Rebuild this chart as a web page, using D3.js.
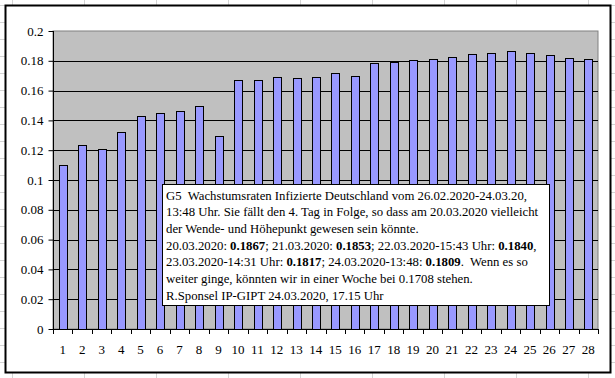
<!DOCTYPE html>
<html lang="de">
  <head>
    <meta charset="utf-8">
    <script src="https://d3js.org/d3.v7.min.js"></script>
    <style>
      body { margin: 0; background: #fff; }
      text { font-family: "Liberation Serif", "Times New Roman", serif; }
    </style>
  </head>
  <body>
    <script>
      // days 1..28 (26.02.2020 - 24.03.2020)
      var days = d3.range(1, 29);
      var rates = [0.110, 0.1233, 0.1206, 0.132, 0.1427, 0.1447, 0.1463, 0.150,
        0.1293, 0.1669, 0.1669, 0.1689, 0.1682, 0.1689, 0.1716, 0.1696,
        0.1783, 0.179, 0.1803, 0.181, 0.1823, 0.1843, 0.185, 0.1867,
        0.1853, 0.1840, 0.1817, 0.1809];
      var yTicks = [0, 0.02, 0.04, 0.06, 0.08, 0.1, 0.12, 0.14, 0.16, 0.18, 0.2];
      // text box lines, parts: [text, bold]
      var noteLines = [
        [["G5  Wachstumsraten Infizierte Deutschland vom 26.02.2020-24.03.20,", false]],
        [["13:48 Uhr. Sie fällt den 4. Tag in Folge, so dass am 20.03.2020 vielleicht", false]],
        [["der Wende- und Höhepunkt gewesen sein könnte.", false]],
        [["20.03.2020: ", false], ["0.1867", true], ["; 21.03.2020: ", false], ["0.1853", true],
         ["; 22.03.2020-15:43 Uhr: ", false], ["0.1840", true], [",", false]],
        [["23.03.2020-14:31 Uhr: ", false], ["0.1817", true], ["; 24.03.2020-13:48: ", false],
         ["0.1809", true], [".  Wenn es so", false]],
        [["weiter ginge, könnten wir in einer Woche bei 0.1708 stehen.", false]],
        [["R.Sponsel IP-GIPT 24.03.2020, 17.15 Uhr", false]]
      ];

      var width = 615, height = 378;
      var svg = d3.select("body").append("svg")
        .attr("width", width).attr("height", height);

      // spreadsheet grid behind the chart
      var grid = svg.append("g").attr("stroke", "#d4d4d4").attr("stroke-width", 1);
      d3.range(12, width, 72).forEach(function (gx) {
        grid.append("line").attr("x1", gx + 0.5).attr("x2", gx + 0.5).attr("y1", 0).attr("y2", height);
      });
      d3.range(4.7, height, 17).forEach(function (gy) {
        grid.append("line").attr("x1", 0).attr("x2", width).attr("y1", Math.round(gy) + 0.5).attr("y2", Math.round(gy) + 0.5);
      });

      // chart area
      svg.append("rect")
        .attr("x", 5.5).attr("y", 5.5).attr("width", 605).attr("height", 367)
        .attr("fill", "#fff").attr("stroke", "#000").attr("stroke-width", 2);

      var plotL = 53, plotR = 598, plotT = 31, plotB = 329;

      var x = d3.scaleBand().domain(days).range([plotL, plotR])
        .paddingInner(0.61).paddingOuter(0.305);
      var y = d3.scaleLinear().domain([0, 0.2]).range([plotB, plotT]);

      // plot area
      svg.append("rect")
        .attr("x", plotL).attr("y", plotT).attr("width", plotR - plotL).attr("height", plotB - plotT)
        .attr("fill", "#c0c0c0").attr("stroke", "#808080");

      // gridlines
      svg.append("g").selectAll("line").data(yTicks.slice(1, -1)).join("line")
        .attr("x1", plotL).attr("x2", plotR)
        .attr("y1", function (d) { return Math.round(y(d)) + 0.5; })
        .attr("y2", function (d) { return Math.round(y(d)) + 0.5; })
        .attr("stroke", "#000");

      // bars
      svg.append("g").selectAll("rect").data(rates).join("rect")
        .attr("x", function (d, i) { return Math.round(x(days[i])) + 0.5; })
        .attr("y", function (d) { return Math.round(y(d)) + 0.5; })
        .attr("width", Math.round(x.bandwidth()))
        .attr("height", function (d) { return Math.round(y(0)) - Math.round(y(d)); })
        .attr("fill", "#9999ff").attr("stroke", "#000");

      // y axis
      var yAxis = svg.append("g").attr("transform", "translate(" + (plotL + 0.5) + ",0)")
        .call(d3.axisLeft(y).tickValues(yTicks).tickSize(5).tickPadding(5)
          .tickFormat(function (d) { return String(+d.toFixed(2)); }));
      yAxis.selectAll("line").attr("stroke", "#000");
      yAxis.select(".domain").attr("stroke", "#000").attr("d", "M0," + plotT + "V" + plotB);
      yAxis.selectAll("text").attr("font-family", "Liberation Serif").attr("font-size", 13).attr("fill", "#000");

      // x axis: ticks between categories
      var step = x.step();
      var xAxisG = svg.append("g");
      xAxisG.append("line").attr("x1", plotL).attr("x2", plotR)
        .attr("y1", plotB + 0.5).attr("y2", plotB + 0.5).attr("stroke", "#000");
      xAxisG.selectAll("line.tk").data(d3.range(0, days.length + 1)).join("line").attr("class", "tk")
        .attr("x1", function (i) { return Math.round(plotL + i * step) + 0.5; })
        .attr("x2", function (i) { return Math.round(plotL + i * step) + 0.5; })
        .attr("y1", plotB).attr("y2", plotB + 5).attr("stroke", "#000");
      xAxisG.selectAll("text").data(days).join("text")
        .attr("x", function (d) { return x(d) + x.bandwidth() / 2; })
        .attr("y", 354).attr("text-anchor", "middle")
        .attr("font-size", 13).attr("fill", "#000")
        .text(function (d) { return d; });

      // note box
      var box = svg.append("g");
      box.append("rect")
        .attr("x", 162.5).attr("y", 184.5).attr("width", 387).attr("height", 121)
        .attr("fill", "#fff").attr("stroke", "#000");
      var txt = box.append("text").attr("font-size", 12.75).attr("fill", "#000")
        .attr("xml:space", "preserve");
      noteLines.forEach(function (parts, li) {
        parts.forEach(function (p, pi) {
          var ts = txt.append("tspan").text(p[0])
            .attr("font-weight", p[1] ? "bold" : "normal");
          if (pi === 0) ts.attr("x", 166).attr("y", 199.5 + li * 16.7);
        });
      });
    </script>
  </body>
</html>
